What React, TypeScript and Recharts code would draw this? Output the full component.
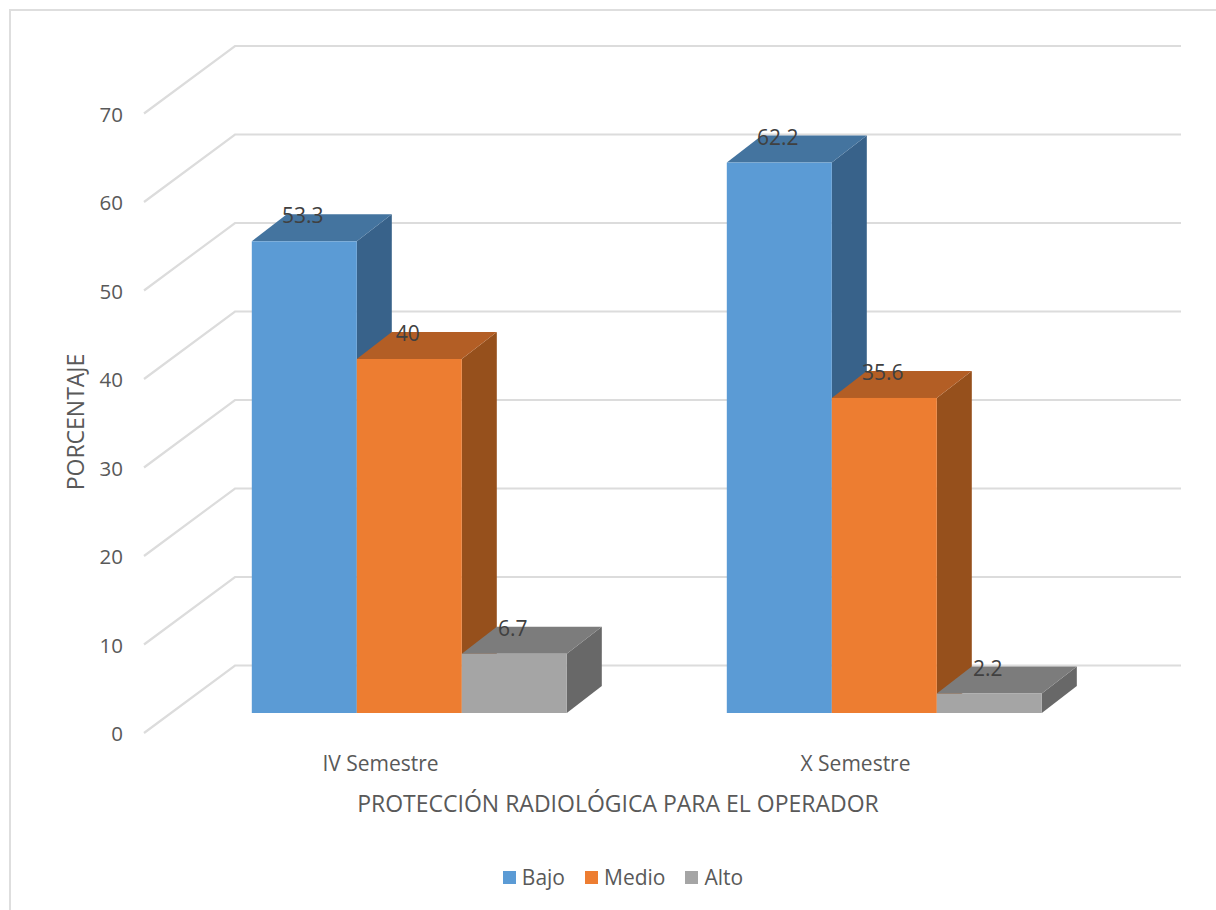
import React from "react";
import { BarChart, Bar, XAxis, YAxis, CartesianGrid, Legend, LabelList, Label } from "recharts";

const semesters = ["IV Semestre", "X Semestre"];
const bajo = [53.3, 62.2];
const medio = [40, 35.6];
const alto = [6.7, 2.2];
const valueTicks = [0, 10, 20, 30, 40, 50, 60, 70];

const seriesNames = ["Bajo", "Medio", "Alto"];
const rows = semesters.map((semester, i) => ({
  semester,
  Bajo: bajo[i],
  Medio: medio[i],
  Alto: alto[i],
}));

const FONT = '"Open Sans", sans-serif';
const TEXT = "#595959";
const GRID = "#dcdcdc";

// Depth of the extruded column and of the chart's floor
const DEPTH_X = 35;
const DEPTH_Y = 27;
const WALL_DROP = 20;
const WALL_RISE = 47.5;

const palette: Record<string, { front: string; top: string; side: string }> = {
  Bajo: { front: "#5B9BD5", top: "#44749F", side: "#38628A" },
  Medio: { front: "#ED7D31", top: "#B35E25", side: "#96501C" },
  Alto: { front: "#A5A5A5", top: "#7C7C7C", side: "#686868" },
};

function box(name: string) {
  const colors = palette[name];
  return (props: any) => {
    const { x, y, width, height } = props;
    const r = x + width;
    const b = y + height;
    return (
      <g>
        <polygon
          points={`${r},${y} ${r + DEPTH_X},${y - DEPTH_Y} ${r + DEPTH_X},${b - DEPTH_Y} ${r},${b}`}
          fill={colors.side}
        />
        <polygon
          points={`${x},${y} ${x + DEPTH_X},${y - DEPTH_Y} ${r + DEPTH_X},${y - DEPTH_Y} ${r},${y}`}
          fill={colors.top}
        />
        <rect x={x} y={y} width={width} height={height} fill={colors.front} />
      </g>
    );
  };
}

// One gridline: up the side wall from the floor's front edge, then across the back wall
const wallLine = (props: any) => {
  const { x1, x2, y1 } = props;
  return (
    <polyline
      key={props.key ?? y1}
      points={`${x1 - 28},${y1 + WALL_DROP} ${x1 + 63},${y1 - WALL_RISE} ${x2 + 59},${y1 - WALL_RISE}`}
      fill="none"
      stroke={GRID}
      strokeWidth={2.2}
    />
  );
};

const valueTick = (props: any) => (
  <text
    x={123}
    y={props.y + WALL_DROP}
    textAnchor="end"
    dominantBaseline="central"
    fontFamily={FONT}
    fontSize={20.5}
    fill={TEXT}
  >
    {props.payload.value}
  </text>
);

const semesterTick = (props: any) => (
  <text
    x={props.x - 29}
    y={763}
    textAnchor="middle"
    dominantBaseline="central"
    fontFamily={FONT}
    fontSize={21}
    fill={TEXT}
  >
    {props.payload.value}
  </text>
);

const valueLabel = (props: any) => (
  <text
    x={props.x + props.width / 2 - 1.5}
    y={props.y - 26}
    textAnchor="middle"
    dominantBaseline="central"
    fontFamily={FONT}
    fontSize={21}
    fill="#404040"
  >
    {props.value}
  </text>
);

const legendContent = () => (
  <div
    style={{
      display: "flex",
      justifyContent: "center",
      alignItems: "center",
      height: 34,
      fontFamily: FONT,
      fontSize: 21,
      color: TEXT,
      paddingLeft: 144,
    }}
  >
    {seriesNames.map((name) => (
      <span key={name} style={{ display: "flex", alignItems: "center", marginRight: 20 }}>
        <span
          style={{
            width: 13,
            height: 13,
            background: palette[name].front,
            display: "inline-block",
            marginRight: 6,
          }}
        />
        {name}
      </span>
    ))}
  </div>
);

export default function App() {
  return (
    <div
      style={{
        position: "absolute",
        left: 0,
        top: 0,
        width: 1216,
        height: 910,
        overflow: "hidden",
        background: "#fff",
      }}
    >
      <div
        style={{
          position: "absolute",
          left: 9,
          top: 9,
          width: 1300,
          height: 1000,
          border: "2px solid #dedede",
        }}
      />
      <BarChart
        width={1216}
        height={910}
        data={rows}
        barCategoryGap="16.8%"
        barGap={0}
        margin={{ top: 93.5, right: 94, bottom: 0, left: 0 }}
        style={{ position: "absolute", left: 0, top: 0 }}
      >
        <CartesianGrid vertical={false} horizontal={wallLine} />
        <XAxis
          dataKey="semester"
          height={163}
          axisLine={false}
          tickLine={false}
          tick={semesterTick}
          interval={0}
        >
          <Label
            content={() => (
              <text
                x={618}
                y={803}
                textAnchor="middle"
                dominantBaseline="central"
                fontFamily={FONT}
                fontSize={23}
                fill={TEXT}
              >
                PROTECCIÓN RADIOLÓGICA PARA EL OPERADOR
              </text>
            )}
          />
        </XAxis>
        <YAxis
          width={172}
          domain={[0, 70]}
          ticks={valueTicks}
          axisLine={false}
          tickLine={false}
          tick={valueTick}
        >
          <Label
            content={() => (
              <text
                x={75}
                y={422}
                transform="rotate(-90 75 422)"
                textAnchor="middle"
                dominantBaseline="central"
                fontFamily={FONT}
                fontSize={23}
                fill={TEXT}
              >
                PORCENTAJE
              </text>
            )}
          />
        </YAxis>
        <Legend verticalAlign="bottom" content={legendContent} wrapperStyle={{ bottom: 16 }} />
        {seriesNames.map((name) => (
          <Bar key={name} dataKey={name} isAnimationActive={false} shape={box(name)} fill={palette[name].front}>
            <LabelList dataKey={name} content={valueLabel} />
          </Bar>
        ))}
      </BarChart>
    </div>
  );
}
